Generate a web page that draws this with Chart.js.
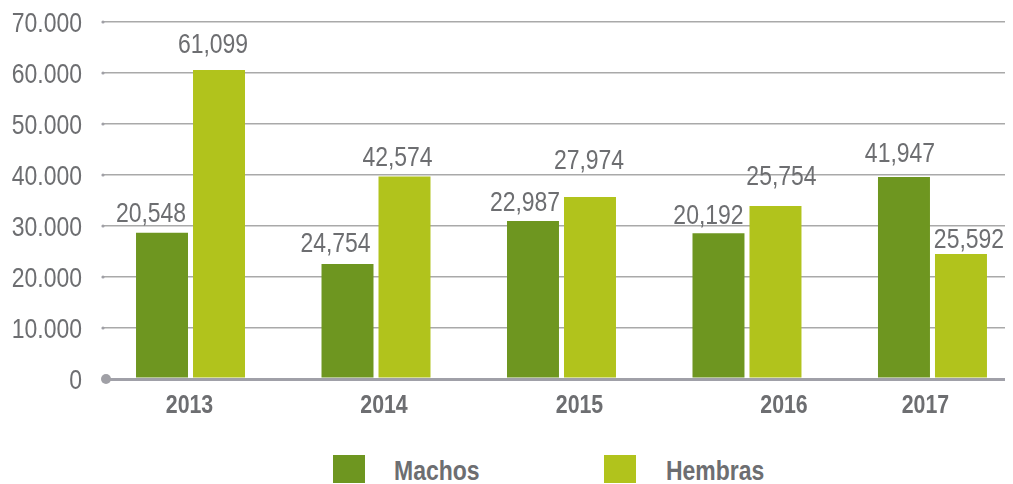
<!DOCTYPE html>
<html>
<head>
<meta charset="utf-8">
<script src="https://cdn.jsdelivr.net/npm/chart.js@4"></script>
<style>
    body { margin: 0; background: #fff; }
    #wrap { position: relative; width: 1013px; height: 484px; overflow: hidden; }
    .legend-box { position: absolute; top: 455px; width: 32px; height: 28px; }
    .legend-text {
        position: absolute; top: 455px; line-height: 28px;
        font: bold 28px 'Liberation Sans', Arial, sans-serif;
        color: #6d6e71;
        transform: scaleX(0.82); transform-origin: left center;
    }
</style>
</head>
<body>
<div id="wrap">
    <canvas id="chart" width="1013" height="440"></canvas>
    <div class="legend-box" style="left:333px;background:#6e9620"></div>
    <div class="legend-text" style="left:394px">Machos</div>
    <div class="legend-box" style="left:604px;background:#b1c31c"></div>
    <div class="legend-text" style="left:666px">Hembras</div>
</div>
<script>
// Datos
const years = ['2013', '2014', '2015', '2016', '2017'];
const machos = [28700, 22550, 31000, 28600, 39600];
const hembras = [60600, 39700, 35700, 33900, 24500];
const machosLabels = ['20,548', '24,754', '22,987', '20,192', '41,947'];
const hembrasLabels = ['61,099', '42,574', '27,974', '25,754', '25,592'];

const FONT = "'Liberation Sans', Arial, sans-serif";
const GREY = '#6d6e71';
const NARROW = 0.82; // imita Arial Narrow
// ajustes de estilo: desplazamiento de años y de etiquetas [dx, separación]
const yearShift = [-1, 8, 18, 37, -7];
const machosNudge = [[-11, 11], [-12, 12], [-8, 10], [-10, 9], [-4, 15]];
const hembrasNudge = [[-6, 17], [-7, 11], [-1, 28], [6, 21], [8, 6]];

function narrowText(ctx, text, x, y) {
    ctx.save();
    ctx.translate(x, y);
    ctx.scale(NARROW, 1);
    ctx.fillText(text, 0, 0);
    ctx.restore();
}

// Etiquetas de valor sobre las barras
const valueLabels = {
    id: 'valueLabels',
    afterDatasetsDraw(chart) {
        const ctx = chart.ctx;
        ctx.save();
        ctx.font = '28px ' + FONT;
        ctx.fillStyle = GREY;
        ctx.textAlign = 'center';
        ctx.textBaseline = 'alphabetic';
        chart.data.datasets.forEach((ds, i) => {
            chart.getDatasetMeta(i).data.forEach((bar, j) => {
                const [dx, gap] = ds.nudge[j];
                narrowText(ctx, ds.valueText[j], bar.x + dx, bar.y - gap);
            });
        });
        ctx.restore();
    }
};

// Textos de los ejes y puntos en las líneas de la cuadrícula
const axisDecor = {
    id: 'axisDecor',
    afterDraw(chart) {
        const ctx = chart.ctx;
        const x = chart.scales.x;
        const y = chart.scales.y;
        const area = chart.chartArea;
        ctx.save();
        y.ticks.forEach(t => {
            const py = y.getPixelForValue(t.value);
            ctx.fillStyle = '#a0a0a6';
            ctx.beginPath();
            if (t.value === 0) ctx.arc(area.left + 1, py, 5, 0, Math.PI * 2);
            else ctx.arc(area.left - 2, py, 1.6, 0, Math.PI * 2);
            ctx.fill();
            ctx.font = '28px ' + FONT;
            ctx.fillStyle = GREY;
            ctx.textAlign = 'right';
            ctx.textBaseline = 'middle';
            narrowText(ctx, t.value.toLocaleString('de-DE'), 82, py + 2);
        });
        ctx.font = 'bold 26px ' + FONT;
        ctx.fillStyle = GREY;
        ctx.textAlign = 'center';
        ctx.textBaseline = 'alphabetic';
        years.forEach((yr, i) => {
            narrowText(ctx, yr, x.getPixelForValue(i) + yearShift[i], area.bottom + 34);
        });
        ctx.restore();
    }
};

new Chart(document.getElementById('chart'), {
    type: 'bar',
    data: {
        datasets: [{
            label: 'Machos',
            data: machos.map((v, i) => ({ x: i, y: v })),
            valueText: machosLabels,
            nudge: machosNudge,
            backgroundColor: '#6e9620'
        }, {
            label: 'Hembras',
            data: hembras.map((v, i) => ({ x: i, y: v })),
            valueText: hembrasLabels,
            nudge: hembrasNudge,
            backgroundColor: '#b1c31c'
        }]
    },
    options: {
        responsive: false,
        animation: false,
        devicePixelRatio: 1,
        categoryPercentage: 0.6146,
        barPercentage: 0.912,
        layout: { padding: { left: 0, right: 8, top: 22, bottom: 61 } },
        plugins: {
            legend: { display: false },
            tooltip: { enabled: false }
        },
        scales: {
            x: {
                type: 'linear',
                display: false,
                offset: false,
                min: -0.461,
                max: 4.391,
                ticks: { stepSize: 1, includeBounds: false }
            },
            y: {
                min: 0,
                max: 70000,
                border: { display: false },
                afterFit(scale) { scale.width = 105; },
                grid: {
                    color: ctx => ctx.tick && ctx.tick.value === 0 ? '#a0a0a8' : '#a9a9a9',
                    lineWidth: ctx => ctx.tick && ctx.tick.value === 0 ? 3 : 1.5,
                    drawTicks: true,
                    tickLength: 3
                },
                ticks: { stepSize: 10000, display: false }
            }
        }
    },
    plugins: [valueLabels, axisDecor]
});
</script>
</body>
</html>
